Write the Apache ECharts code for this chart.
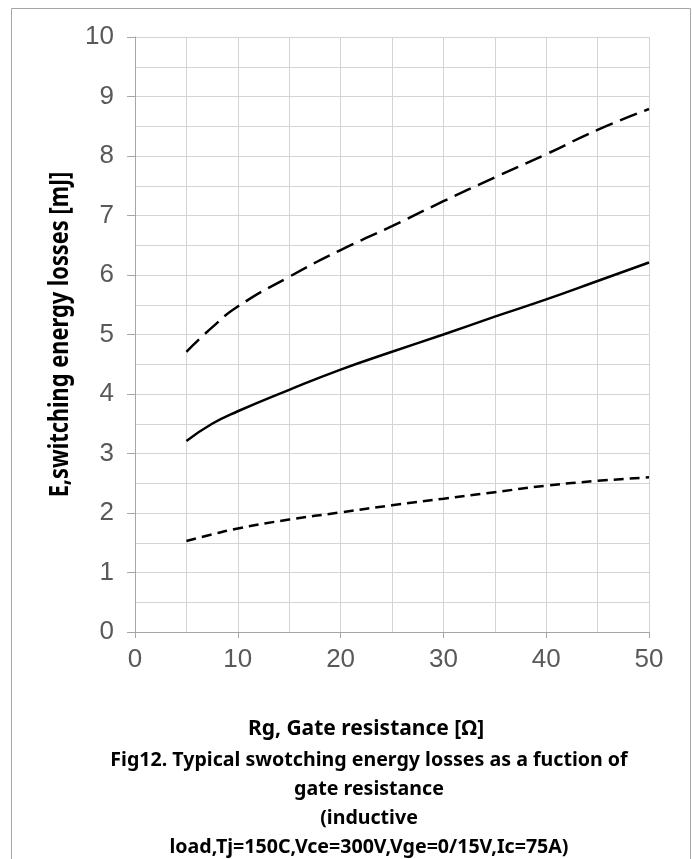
<!DOCTYPE html>
<html>
<head>
<meta charset="utf-8">
<script src="https://cdn.jsdelivr.net/npm/echarts@6/dist/echarts.min.js"></script>
<style>html,body{margin:0;padding:0;background:#fff;}#c{width:692px;height:859px;}</style>
</head>
<body>
<div id="c"></div>
<script>
var rg = [5, 7.5, 10, 15, 20, 25, 30, 35, 40, 45, 50];
var upperDashed = [4.71, 5.12, 5.47, 5.97, 6.42, 6.82, 7.24, 7.64, 8.03, 8.44, 8.79];
var solidCurve = [3.21, 3.5, 3.71, 4.07, 4.41, 4.71, 5.0, 5.3, 5.59, 5.9, 6.21];
var lowerDashed = [1.53, 1.64, 1.74, 1.89, 2.01, 2.13, 2.24, 2.35, 2.46, 2.54, 2.60];
var yAxisName = 'E,switching energy losses [mJ]';
var xAxisName = 'Rg, Gate resistance [Ω]';
var captionLines = ['Fig12. Typical swotching energy losses as a fuction of', 'gate resistance', '(inductive', 'load,Tj=150C,Vce=300V,Vge=0/15V,Ic=75A)'];

function pairs(xs, ys) { return xs.map(function (x, i) { return [x, ys[i]]; }); }

var chart = echarts.init(document.getElementById('c'));
var textFont = '"Noto Sans", "Noto Sans CJK SC", sans-serif';
var labelFont = '"Liberation Sans", Arial, sans-serif';

var graphics = [{
  type: 'rect', silent: true, z: -1,
  shape: { x: 11.5, y: 8.5, width: 679, height: 900 },
  style: { fill: 'none', stroke: '#a6a6a6', lineWidth: 1 }
}, {
  type: 'text', silent: true, x: 366, y: 729,
  style: { text: xAxisName, align: 'center', verticalAlign: 'middle',
    font: 'bold 21px ' + textFont, fill: '#000' }
}, {
  type: 'text', silent: true, x: 61, y: 334.5, rotation: Math.PI / 2, scaleX: 1, scaleY: 1.2,
  style: { text: yAxisName, align: 'center', verticalAlign: 'middle',
    font: 'bold 21.8px ' + textFont, fill: '#000' }
}];
var captionYs = [760, 789, 818, 847];
captionLines.forEach(function (t, i) {
  graphics.push({ type: 'text', silent: true, x: 369, y: captionYs[i],
    style: { text: t, align: 'center', verticalAlign: 'middle',
      font: 'bold 19.6px ' + textFont, fill: '#000' } });
});

chart.setOption({
  animation: false,
  backgroundColor: '#fff',
  graphic: graphics,
  grid: { left: 135, right: 43, top: 37, bottom: 227, containLabel: false },
  xAxis: {
    type: 'value', min: 0, max: 50, interval: 10,
    axisLine: { show: true, lineStyle: { color: '#a6a6a6', width: 1 } },
    axisTick: { show: true, length: 6, lineStyle: { color: '#a6a6a6' } },
    minorTick: { show: false, splitNumber: 2 },
    splitLine: { show: true, lineStyle: { color: '#d4d4d4', width: 1 } },
    minorSplitLine: { show: true, lineStyle: { color: '#d4d4d4', width: 1 } },
    axisLabel: { fontFamily: labelFont, fontSize: 26, color: '#595959', margin: 15 }
  },
  yAxis: {
    type: 'value', min: 0, max: 10, interval: 1,
    axisLine: { show: true, lineStyle: { color: '#a6a6a6', width: 1 } },
    axisTick: { show: true, length: 8, lineStyle: { color: '#a6a6a6' } },
    minorTick: { show: false, splitNumber: 2 },
    splitLine: { show: true, lineStyle: { color: '#d4d4d4', width: 1 } },
    minorSplitLine: { show: true, lineStyle: { color: '#d4d4d4', width: 1 } },
    axisLabel: { fontFamily: labelFont, fontSize: 26, color: '#595959', margin: 21 }
  },
  series: [{
    name: 'upper dashed', type: 'line', smooth: true, symbol: 'none',
    data: pairs(rg, upperDashed),
    lineStyle: { color: '#000', width: 2.5, type: [18, 8] }
  }, {
    name: 'solid', type: 'line', smooth: true, symbol: 'none',
    data: pairs(rg, solidCurve),
    lineStyle: { color: '#000', width: 2.5, type: 'solid' }
  }, {
    name: 'lower dashed', type: 'line', smooth: true, symbol: 'none',
    data: pairs(rg, lowerDashed),
    lineStyle: { color: '#000', width: 2.5, type: [10, 6] }
  }]
});
</script>
</body>
</html>
